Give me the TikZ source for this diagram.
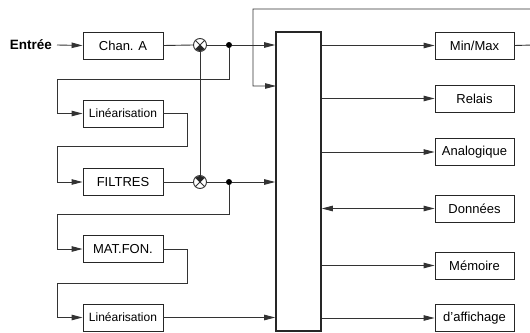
\documentclass[tikz,border=0pt]{standalone}
\usepackage{fontspec}
\setmainfont{Liberation Sans}
\usetikzlibrary{arrows.meta,calc}
\begin{document}
\begin{tikzpicture}[x=1pt,y=-1pt,
  blk/.style={draw=black!85,line width=0.9pt,inner sep=0pt,minimum height=27pt,font=\fontsize{13}{15}\selectfont},
  lblk/.style={blk,minimum width=80pt},
  rblk/.style={blk,minimum width=79pt},
  smallt/.style={font=\fontsize{12}{14}\selectfont},
  ln/.style={draw=black!80,line width=0.9pt},
  tip/.tip={Triangle[length=11pt,width=5.5pt]},
  arr/.style={ln,-tip},
  darr/.style={ln,tip-tip},
  mult/.style={circle,ln,minimum size=13pt,inner sep=0pt},
  jdot/.style={circle,fill=black,inner sep=0pt,minimum size=6pt}]
\useasboundingbox (0,0) rectangle (530,332);

% left blocks
\node[font=\bfseries\fontsize{13.5}{15}\selectfont,anchor=east,inner sep=0pt] (in) at (52,45) {Entrée};
\node[lblk] (chan) at (123,45.5) {Chan. A};
\node[lblk,smallt] (lin1) at (123,113.5) {Linéarisation};
\node[lblk] (filt) at (123,182) {FILTRES};
\node[lblk] (mat) at (123,249) {MAT.FON.};
\node[lblk,smallt] (lin2) at (123,317.5) {Linéarisation};

% central block
\node[draw=black!85,line width=1.6pt,minimum width=45pt,minimum height=299pt,inner sep=0pt] (bus) at (298.5,181.5) {};

% right blocks
\node[rblk] (mm) at (474.5,45.5) {Min/Max};
\node[rblk] (rel) at (474.5,98.5) {Relais};
\node[rblk] (ana) at (474.5,152) {Analogique};
\node[rblk] (don) at (474.5,208.5) {Données};
\node[rblk] (mem) at (474.5,265.5) {Mémoire};
\node[rblk] (aff) at (474.5,318) {d'affichage};

% multipliers and junctions
\node[mult] (m1) at (200,45) {};
\node[mult] (m2) at (200,182) {};
\draw[ln] (m1.45) -- (m1.225) (m1.135) -- (m1.315);
\draw[ln] (m2.45) -- (m2.225) (m2.135) -- (m2.315);
\fill[black!85] (m1.center) -- ++(225:6pt) arc[start angle=225,end angle=315,radius=6pt] -- cycle;
\fill[black!85] (m2.center) -- ++(45:6pt) arc[start angle=45,end angle=135,radius=6pt] -- cycle;
\node[jdot] (d1) at (229,45) {};
\node[jdot] (d2) at (229,182) {};

% waypoints
\coordinate (w1) at (57,79);
\coordinate (w2) at (187,146);
\coordinate (w3) at (57,146);
\coordinate (w4) at (57,214);
\coordinate (w5) at (187,283);
\coordinate (w6) at (57,283);
\coordinate (r1) at (533,45);
\coordinate (r2) at (533,9);
\coordinate (r3) at (253,9);
\coordinate (fb) at (276,86);

% connectors
\draw[arr] ([xshift=5pt]in.east) -- (chan.west);
\draw[ln] (chan.east) -- (m1.west);
\draw[ln] (m1.east) -- (d1);
\draw[arr] (d1) -- (d1 -| bus.west);
\draw[ln] (m1.south) -- (m2.north);
\draw[arr] (d1) |- (w1) |- (lin1.west);
\draw[arr] (lin1.east) -| (w2) -- (w3) |- (filt.west);
\draw[ln] (filt.east) -- (m2.west);
\draw[ln] (m2.east) -- (d2);
\draw[arr] (d2) -- (d2 -| bus.west);
\draw[arr] (d2) |- (w4) |- (mat.west);
\draw[arr] (mat.east) -| (w5) -- (w6) |- (lin2.west);
\draw[arr] (lin2.east) -- (lin2.east -| bus.west);

\draw[arr] (mm.east) -- (r1) -- (r2) -- (r3) |- (fb);
\draw[arr] (bus.east |- mm) -- (mm.west);
\draw[arr] (bus.east |- rel) -- (rel.west);
\draw[arr] (bus.east |- ana) -- (ana.west);
\draw[darr] (bus.east |- don) -- (don.west);
\draw[arr] (bus.east |- mem) -- (mem.west);
\draw[arr] (bus.east |- aff) -- (aff.west);
\end{tikzpicture}
\end{document}
